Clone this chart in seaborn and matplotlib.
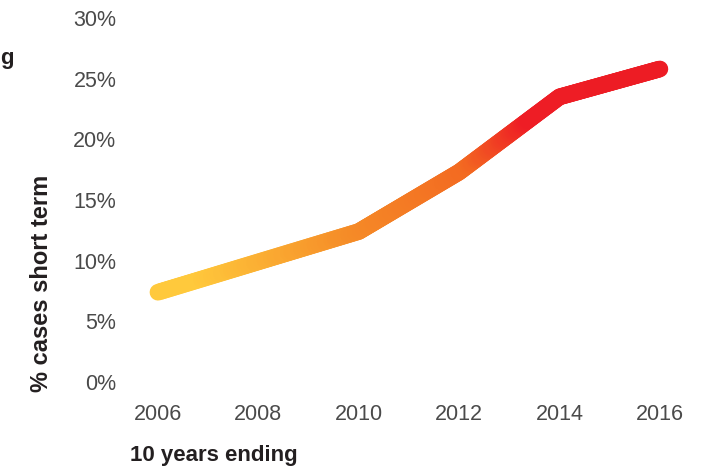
import numpy as np
import pandas as pd
import matplotlib
matplotlib.use("Agg")
import matplotlib.pyplot as plt
import seaborn as sns
from matplotlib.collections import LineCollection
from matplotlib.colors import LinearSegmentedColormap
from matplotlib.ticker import FuncFormatter

# ---- data ----
years = [2006, 2010, 2012, 2014, 2016]
pct_short_term = [7.4, 12.4, 17.3, 23.5, 25.8]
x_ticks = [2006, 2008, 2010, 2012, 2014, 2016]
y_ticks = [0, 5, 10, 15, 20, 25, 30]
y_label = "% cases short term"
x_label = "10 years ending"
cut_text = "g"

df = pd.DataFrame({"year": years, "pct": pct_short_term})

sns.set_theme(style="white")
plt.rcParams["font.family"] = ["Liberation Sans", "DejaVu Sans"]

fig = plt.figure(figsize=(7.07, 4.70), dpi=100)
ax = fig.add_axes([0.1666, 0.1872, 0.976 - 0.1666, 0.9617 - 0.1872])

line_w = 12
sns.lineplot(data=df, x="year", y="pct", ax=ax, color="#ED1C24",
             linewidth=line_w, solid_capstyle="round", solid_joinstyle="round")
ax.lines[0].set_visible(False)

# gradient overlay along the same line (colour by x)
stops = [(0.0, "#FFC93C"), (0.08, "#FFC93C"), (0.40, "#F58A27"),
         (0.62, "#F36A21"), (0.74, "#EE1D25"), (1.0, "#ED1C24")]
cmap = LinearSegmentedColormap.from_list("grad", stops)
xs, ys = [], []
for i in range(len(years) - 1):
    t = np.linspace(0, 1, 60, endpoint=False)
    xs.extend(years[i] + t * (years[i + 1] - years[i]))
    ys.extend(pct_short_term[i] + t * (pct_short_term[i + 1] - pct_short_term[i]))
xs.append(years[-1]); ys.append(pct_short_term[-1])
xs = np.array(xs); ys = np.array(ys)
pts = np.column_stack([xs, ys]).reshape(-1, 1, 2)
segs = np.concatenate([pts[:-1], pts[1:]], axis=1)
xmin, xmax = min(years), max(years)
cvals = ((xs[:-1] + xs[1:]) / 2 - xmin) / (xmax - xmin)
lc = LineCollection(segs, colors=cmap(cvals), linewidths=line_w,
                    capstyle="round", joinstyle="round")
ax.add_collection(lc)

ax.set_xlim(2005.2, 2016.6)
ax.set_ylim(0, 30)
ax.set_xticks(x_ticks)
ax.set_yticks(y_ticks)
ax.yaxis.set_major_formatter(FuncFormatter(lambda v, p: f"{int(v)}%"))
ax.tick_params(axis="both", length=0, labelsize=15.5, labelcolor="#4a4a4a")
ax.tick_params(axis="x", pad=16)
ax.tick_params(axis="y", pad=1)
for s in ax.spines.values():
    s.set_visible(False)
ax.grid(False)
ax.set_xlabel("")
ax.set_ylabel("")

fig.text(42 / 707, 1 - 283 / 470, y_label, rotation=90, ha="center", va="center",
         fontsize=17, fontweight="bold", color="#231f20")
fig.text(130 / 707, 1 - 456 / 470, x_label, ha="left", va="center",
         fontsize=16, fontweight="bold", color="#231f20")
fig.text(0.5 / 707, 1 - 64 / 470, cut_text, ha="left", va="baseline",
         fontsize=16, fontweight="bold", color="#231f20")

fig.savefig("out.png", dpi=100)
